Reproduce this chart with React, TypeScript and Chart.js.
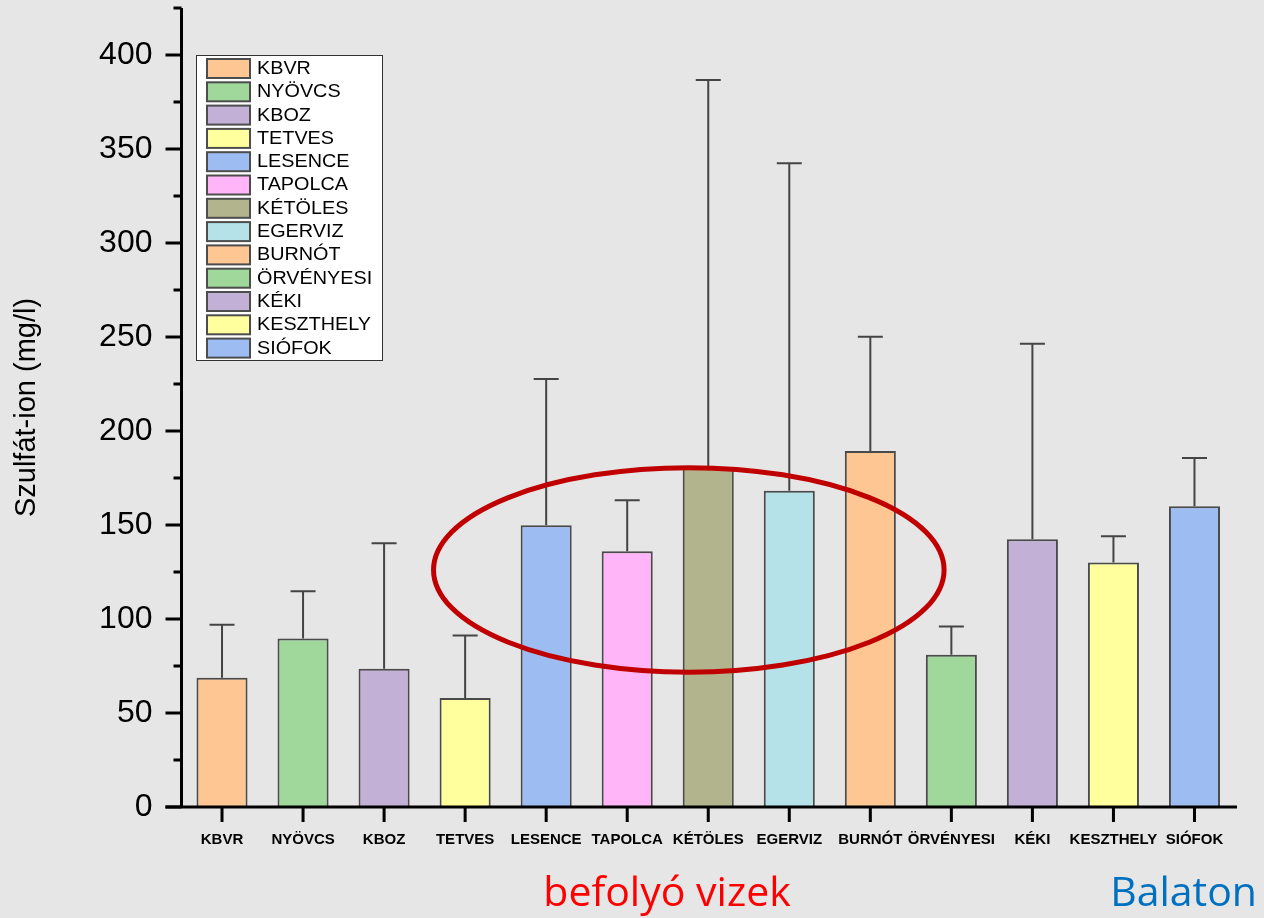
import React, { useEffect, useRef } from 'react';
import { Chart, registerables } from 'chart.js';

Chart.register(...registerables);

const FONT = '"Liberation Sans", Arial, Helvetica, sans-serif';

const categories = ['KBVR', 'NYÖVCS', 'KBOZ', 'TETVES', 'LESENCE', 'TAPOLCA', 'KÉTÖLES', 'EGERVIZ', 'BURNÓT', 'ÖRVÉNYESI', 'KÉKI', 'KESZTHELY', 'SIÓFOK'];
const means = [68.8, 89.6, 73.6, 58.0, 149.9, 136.0, 180.5, 168.2, 189.3, 81.0, 142.4, 130.1, 160.0];
const errors = [28.2, 25.1, 66.7, 33.2, 77.8, 27.2, 206.2, 174.2, 60.8, 15.0, 104.0, 13.9, 25.6];
const barColors = ['#fdc693', '#9fd89a', '#c3b0d6', '#ffff9e', '#9cbcf2', '#ffb5f7', '#b1b48c', '#b4e2e8', '#fdc693', '#9fd89a', '#c3b0d6', '#ffff9e', '#9cbcf2'];
const yTitle = 'Szulfát-ion (mg/l)';
const groupLabels = ['befolyó vizek', 'Balaton'];
const groupColors = ['#ff0000', '#0070c0'];
// highlight ellipse, in data units: [center category index, center value, radius in categories, radius in value]
const highlight = [5.76, 126.1, 3.15, 54.4];

const decorPlugin = {
  id: 'decor',
  afterDatasetsDraw(chart: any) {
    const ctx = chart.ctx;
    const xs = chart.scales.x;
    const ys = chart.scales.y;
    const area = chart.chartArea;
    ctx.save();

    // error bars
    ctx.strokeStyle = '#444444';
    ctx.lineWidth = 2;
    for (let i = 0; i < means.length; i++) {
      const x = xs.getPixelForValue(i);
      const y0 = ys.getPixelForValue(means[i]);
      const y1 = ys.getPixelForValue(means[i] + errors[i]);
      ctx.beginPath();
      ctx.moveTo(x, y0);
      ctx.lineTo(x, y1);
      ctx.moveTo(x - 12.5, y1);
      ctx.lineTo(x + 12.5, y1);
      ctx.stroke();
    }

    // axes
    ctx.strokeStyle = '#000000';
    ctx.lineWidth = 3;
    ctx.beginPath();
    ctx.moveTo(area.left, area.top);
    ctx.lineTo(area.left, area.bottom + 1.5);
    ctx.moveTo(area.left - 16, area.bottom);
    ctx.lineTo(area.right + 2, area.bottom);
    ctx.stroke();
    ctx.beginPath();
    for (let v = 0; v <= 425; v += 25) {
      const y = ys.getPixelForValue(v);
      const len = v % 50 === 0 ? 16 : 8;
      ctx.moveTo(area.left - len, y);
      ctx.lineTo(area.left, y);
    }
    for (let i = 0; i < categories.length; i++) {
      const x = xs.getPixelForValue(i);
      ctx.moveTo(x, area.bottom);
      ctx.lineTo(x, area.bottom + 15);
    }
    ctx.stroke();

    // highlight ellipse
    const step = xs.getPixelForValue(1) - xs.getPixelForValue(0);
    const cx = xs.getPixelForValue(highlight[0]);
    const cy = ys.getPixelForValue(highlight[1]);
    const rx = highlight[2] * step;
    const ry = ys.getPixelForValue(0) - ys.getPixelForValue(highlight[3]);
    ctx.strokeStyle = '#c00000';
    ctx.lineWidth = 5;
    ctx.beginPath();
    ctx.ellipse(cx, cy, rx, ry, 0, 0, Math.PI * 2);
    ctx.stroke();

    // legend
    const lx = 196.5, ly = 55.5, lw = 186, lh = 305;
    ctx.fillStyle = '#ffffff';
    ctx.fillRect(lx, ly, lw, lh);
    ctx.strokeStyle = '#333333';
    ctx.lineWidth = 1;
    ctx.strokeRect(lx, ly, lw, lh);
    ctx.font = '18px ' + FONT;
    ctx.textBaseline = 'middle';
    ctx.textAlign = 'left';
    for (let i = 0; i < categories.length; i++) {
      const top = 59 + i * 23.3;
      ctx.fillStyle = barColors[i];
      ctx.fillRect(207, top, 43, 19);
      ctx.strokeStyle = '#4d4d4d';
      ctx.lineWidth = 2;
      ctx.strokeRect(207, top, 43, 19);
      ctx.fillStyle = '#000000';
      ctx.save();
      ctx.translate(257, top + 10);
      ctx.scale(1.1, 1);
      ctx.fillText(categories[i], 0, 0);
      ctx.restore();
    }

    // group labels
    ctx.textBaseline = 'alphabetic';
    ctx.font = '41px "Open Sans", sans-serif';
    ctx.fillStyle = groupColors[0];
    ctx.textAlign = 'center';
    ctx.fillText(groupLabels[0], 667, 906);
    ctx.fillStyle = groupColors[1];
    ctx.textAlign = 'right';
    ctx.fillText(groupLabels[1], 1257, 906);

    ctx.restore();
  },
};

export default function App() {
  const ref = useRef<HTMLCanvasElement | null>(null);
  useEffect(() => {
    if (!ref.current) return;
    const chart = new Chart(ref.current, {
      type: 'bar',
      data: {
        labels: categories,
        datasets: [
          {
            data: means,
            backgroundColor: barColors,
            borderColor: '#4a4a4a',
            borderWidth: 2,
            barPercentage: 0.63,
            categoryPercentage: 1,
          },
        ],
      },
      options: {
        animation: false,
        responsive: false,
        devicePixelRatio: 1,
        layout: { padding: { top: 8, right: 29, left: 0, bottom: 0 } },
        plugins: { legend: { display: false }, tooltip: { enabled: false } },
        scales: {
          x: {
            grid: { display: false, drawTicks: false },
            border: { display: false },
            ticks: {
              autoSkip: false,
              maxRotation: 0,
              minRotation: 0,
              padding: 24,
              color: '#000000',
              font: { family: FONT, size: 15, weight: 'bold' },
            },
            afterFit: (s: any) => {
              s.height = 111;
              s.paddingLeft = 0;
              s.paddingRight = 0;
            },
          },
          y: {
            min: 0,
            max: 425,
            grid: { display: false, drawTicks: false },
            border: { display: false },
            ticks: {
              stepSize: 50,
              includeBounds: false,
              padding: 29,
              color: '#000000',
              font: { family: FONT, size: 32 },
            },
            title: {
              display: true,
              text: yTitle,
              color: '#000000',
              font: { family: FONT, size: 29 },
              padding: { top: 10, bottom: 0 },
            },
            afterFit: (s: any) => {
              s.width = 181.5;
              s.paddingTop = 0;
              s.paddingBottom = 0;
            },
          },
        },
      },
      plugins: [decorPlugin],
    } as any);
    return () => chart.destroy();
  }, []);

  return (
    <div style={{ position: 'absolute', left: 0, top: 0, width: 1264, height: 918, background: '#e6e6e6' }}>
      <canvas ref={ref} width={1264} height={918} style={{ display: 'block' }} />
    </div>
  );
}
